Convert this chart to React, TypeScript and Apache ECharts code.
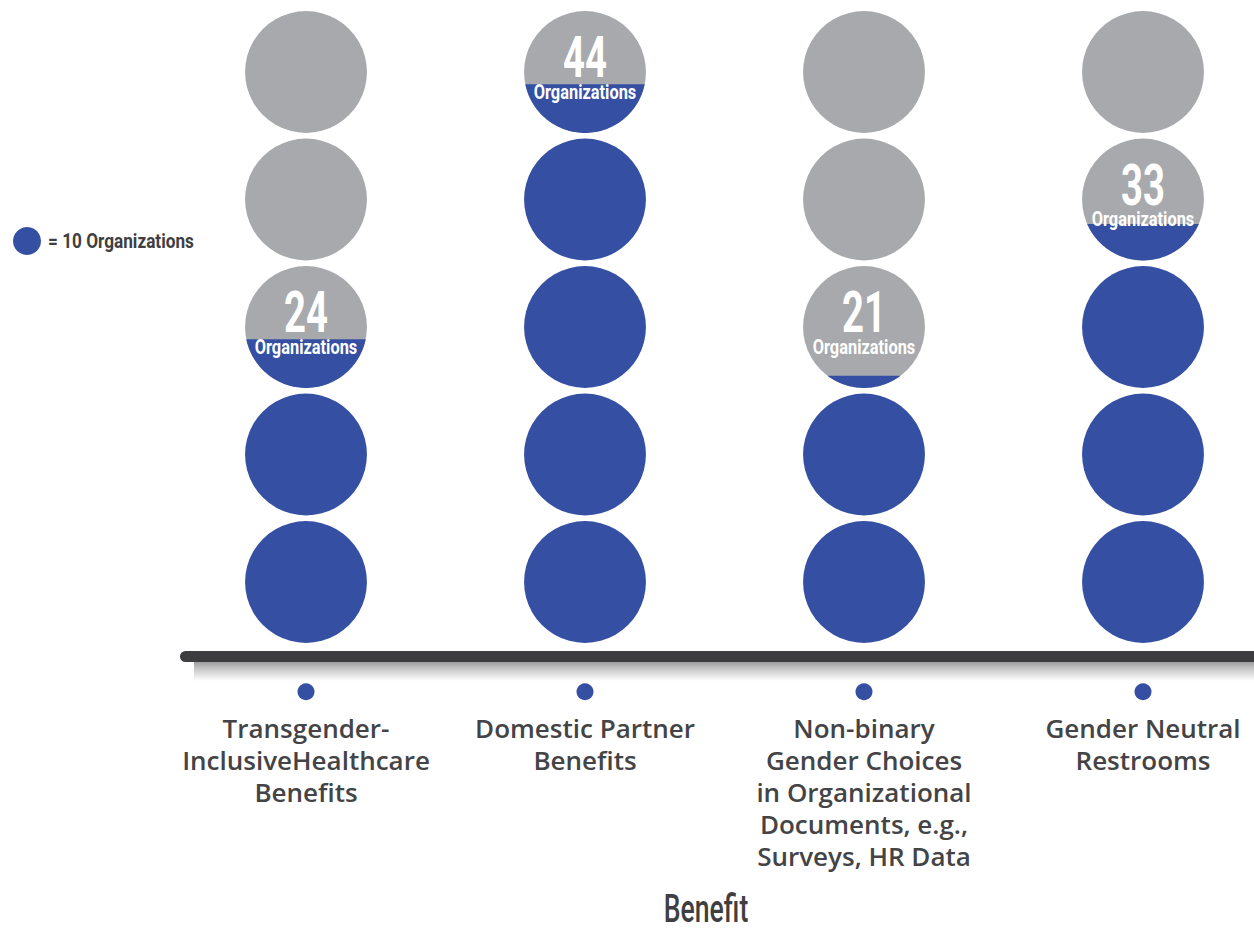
import React, { useEffect, useRef } from "react";
import * as echarts from "echarts";

// ---- data ----
const categories: string[] = [
  "Transgender-\nInclusiveHealthcare\nBenefits",
  "Domestic Partner\nBenefits",
  "Non-binary\nGender Choices\nin Organizational\nDocuments, e.g.,\nSurveys, HR Data",
  "Gender Neutral\nRestrooms",
];
const organizations: number[] = [24, 44, 21, 33];
const orgsPerIcon = 10;
const iconRows = 5;
const legendText = "= 10 Organizations";
const unitLabel = "Organizations";
const axisTitle = "Benefit";

const BLUE = "#3550a3";
const GRAY = "#a7a9ac";
const DARK = "#3f3f41";
const NUM_FONT = "Roboto";

export default function App() {
  const ref = useRef<HTMLDivElement>(null);

  useEffect(() => {
    if (!ref.current) return;
    const chart = echarts.init(ref.current, undefined, { renderer: "svg" });

    const renderItem = (params: any, api: any) => {
      const ci = api.value(0);
      const v = api.value(1);
      const unit = api.size([0, 1])[1];
      const r = unit * 0.478;
      const base = api.coord([ci, 0]);
      const children: any[] = [];
      for (let j = 0; j < iconRows; j++) {
        const c = api.coord([ci, j + 0.5]);
        const frac = Math.min(Math.max(v / orgsPerIcon - j, 0), 1);
        children.push({
          type: "circle",
          shape: { cx: c[0], cy: c[1], r },
          style: { fill: frac >= 1 ? BLUE : GRAY },
        });
        if (frac > 0 && frac < 1) {
          const s = 1 - 2 * frac;
          const t0 = Math.asin(s);
          const pts: number[][] = [];
          const N = 80;
          for (let k = 0; k <= N; k++) {
            const t = t0 + ((Math.PI - 2 * t0) * k) / N;
            pts.push([c[0] + r * Math.cos(t), c[1] + r * Math.sin(t)]);
          }
          children.push({
            type: "polygon",
            shape: { points: pts },
            style: { fill: BLUE },
          });
          children.push({
            type: "text",
            x: c[0],
            y: c[1] - 15,
            scaleX: 0.66,
            style: {
              text: String(v),
              x: 0,
              y: 0,
              align: "center",
              verticalAlign: "middle",
              fontFamily: NUM_FONT,
              fontWeight: "bold",
              fontSize: 58,
              fill: "#ffffff",
            },
          });
          children.push({
            type: "text",
            x: c[0],
            y: c[1] + 20,
            scaleX: 0.78,
            style: {
              text: unitLabel,
              x: 0,
              y: 0,
              align: "center",
              verticalAlign: "middle",
              fontFamily: NUM_FONT,
              fontWeight: "bold",
              fontSize: 21,
              fill: "#ffffff",
            },
          });
        }
      }
      children.push({
        type: "circle",
        shape: { cx: base[0], cy: base[1] + 46, r: 8.5 },
        style: { fill: BLUE },
      });
      return { type: "group", children };
    };

    chart.setOption({
      animation: false,
      backgroundColor: "#ffffff",
      grid: {
        left: 166.5,
        top: 8.25,
        width: 1116,
        height: 637.5,
        outerBoundsMode: "none",
        containLabel: false,
      },
      xAxis: {
        type: "category",
        data: categories,
        axisLine: { show: false },
        axisTick: { show: false },
        splitLine: { show: false },
        axisLabel: {
          interval: 0,
          margin: 66,
          color: "#444446",
          fontFamily: "Open Sans",
          fontWeight: 600,
          fontSize: 26,
          lineHeight: 32,
          align: "center",
          verticalAlign: "top",
          hideOverlap: false,
        },
      },
      yAxis: {
        type: "value",
        min: 0,
        max: iconRows,
        show: false,
      },
      series: [
        {
          type: "custom",
          clip: false,
          renderItem,
          data: organizations.map((v, i) => [i, v]),
        },
      ],
      graphic: [
        {
          type: "rect",
          shape: { x: 194, y: 659, width: 1080, height: 22 },
          style: {
            fill: new echarts.graphic.LinearGradient(0, 0, 0, 1, [
              { offset: 0, color: "rgba(0,0,0,0.45)" },
              { offset: 0.45, color: "rgba(0,0,0,0.22)" },
              { offset: 1, color: "rgba(0,0,0,0)" },
            ]),
          },
        },
        {
          type: "rect",
          shape: { x: 180, y: 651, width: 1100, height: 11, r: 5.5 },
          style: { fill: "#3d3d3f" },
        },
        {
          type: "circle",
          shape: { cx: 27, cy: 241, r: 14 },
          style: { fill: BLUE },
        },
        {
          type: "text",
          x: 48,
          y: 241,
          scaleX: 0.82,
          style: {
            text: legendText,
            x: 0,
            y: 0,
            align: "left",
            verticalAlign: "middle",
            fontFamily: NUM_FONT,
            fontWeight: "bold",
            fontSize: 21,
            fill: DARK,
          },
        },
        {
          type: "text",
          x: 706,
          y: 909,
          scaleX: 0.7,
          style: {
            text: axisTitle,
            x: 0,
            y: 0,
            align: "center",
            verticalAlign: "middle",
            fontFamily: NUM_FONT,
            fontWeight: 500,
            fontSize: 38,
            lineHeight: 38,
            fill: DARK,
          },
        },
      ],
    });

    return () => chart.dispose();
  }, []);

  return (
    <div
      ref={ref}
      style={{ position: "absolute", left: 0, top: 0, width: 1254, height: 930 }}
    />
  );
}
